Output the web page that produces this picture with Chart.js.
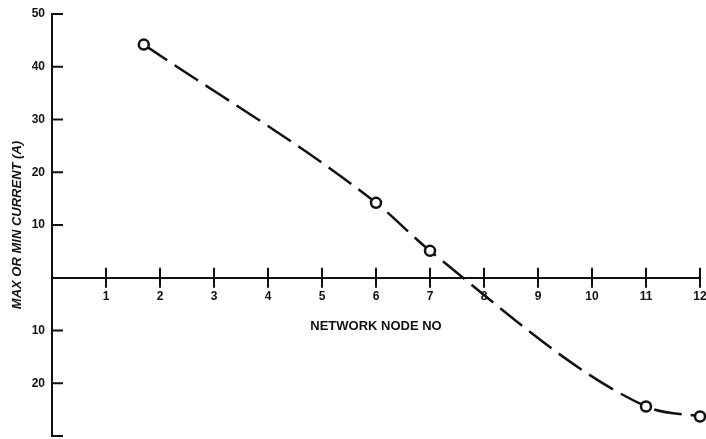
<!DOCTYPE html>
<html>
<head>
<meta charset="utf-8">
<script src="https://cdn.jsdelivr.net/npm/chart.js@4"></script>
<style>
  html, body { margin: 0; background: #fff; }
  #wrap { width: 706px; height: 439px; }
</style>
</head>
<body>
<div id="wrap"><canvas id="chart"></canvas></div>
<script>
// values
var nodeNo = [1.7, 6, 7, 11, 12];
var current = [44.2, 14.2, 5.1, -24.4, -26.3];
var xTickValues = [1, 2, 3, 4, 5, 6, 7, 8, 9, 10, 11, 12];
var yTickValues = [-30, -20, -10, 10, 20, 30, 40, 50];

var ink = '#111';
var font = { family: 'Liberation Sans, Arial, sans-serif', size: 12, weight: 'bold' };

function noPadding(scale) {
  scale.paddingLeft = 0;
  scale.paddingRight = 0;
  scale.paddingTop = 0;
  scale.paddingBottom = 0;
}

// cross ticks on the x axis, inward ticks on the y axis, x title
var axisMarks = {
  id: 'axisMarks',
  afterDraw: function(chart) {
    var ctx = chart.ctx;
    var xs = chart.scales.x, ys = chart.scales.y;
    var y0 = ys.getPixelForValue(0);
    ctx.save();
    ctx.strokeStyle = ink;
    ctx.lineWidth = 2;
    xTickValues.forEach(function(v) {
      var px = xs.getPixelForValue(v);
      ctx.beginPath();
      ctx.moveTo(px, y0 - 10);
      ctx.lineTo(px, y0 + 10);
      ctx.stroke();
    });
    yTickValues.forEach(function(v) {
      var py = ys.getPixelForValue(v);
      ctx.beginPath();
      ctx.moveTo(xs.left, py);
      ctx.lineTo(xs.left + 11, py);
      ctx.stroke();
    });
    ctx.fillStyle = ink;
    ctx.font = 'bold 13px Liberation Sans, Arial, sans-serif';
    ctx.textAlign = 'center';
    ctx.textBaseline = 'middle';
    ctx.fillText('NETWORK NODE NO', xs.getPixelForValue(6), y0 + 49);
    ctx.restore();
  }
};

new Chart(document.getElementById('chart').getContext('2d'), {
  type: 'scatter',
  data: {
    datasets: [{
      data: nodeNo.map(function(x, i) { return { x: x, y: current[i] }; }),
      showLine: true,
      borderColor: ink,
      borderWidth: 2.5,
      borderDash: [28, 9],
      cubicInterpolationMode: 'monotone',
      pointRadius: 5,
      pointBorderWidth: 2.5,
      pointBackgroundColor: '#fff',
      pointBorderColor: ink,
      clip: false
    }]
  },
  options: {
    responsive: true,
    maintainAspectRatio: false,
    animation: false,
    layout: { autoPadding: false, padding: { top: 14, right: 6, bottom: 3, left: 0 } },
    plugins: { legend: { display: false }, tooltip: { enabled: false } },
    scales: {
      x: {
        type: 'linear',
        position: { y: 0 },
        min: 0,
        max: 12,
        afterFit: noPadding,
        grid: { display: false, drawTicks: false },
        border: { display: true, color: ink, width: 2 },
        ticks: {
          stepSize: 1,
          padding: 12,
          color: ink,
          font: font,
          maxRotation: 0,
          callback: function(v) { return v === 0 ? '' : v; }
        }
      },
      y: {
        position: 'left',
        min: -30,
        max: 50,
        afterFit: function(scale) { scale.width = 52; noPadding(scale); },
        grid: { display: false, drawTicks: false },
        border: { display: true, color: ink, width: 2 },
        ticks: {
          stepSize: 10,
          padding: 7,
          color: ink,
          font: font,
          callback: function(v) { return (v === 0 || v === -30) ? '' : Math.abs(v); }
        },
        title: {
          display: true,
          text: 'MAX OR MIN CURRENT (A)',
          color: ink,
          font: { family: 'Liberation Sans, Arial, sans-serif', size: 13, weight: 'bold', style: 'italic' },
          padding: { top: 10, bottom: 0 }
        }
      }
    }
  },
  plugins: [axisMarks]
});
</script>
</body>
</html>
